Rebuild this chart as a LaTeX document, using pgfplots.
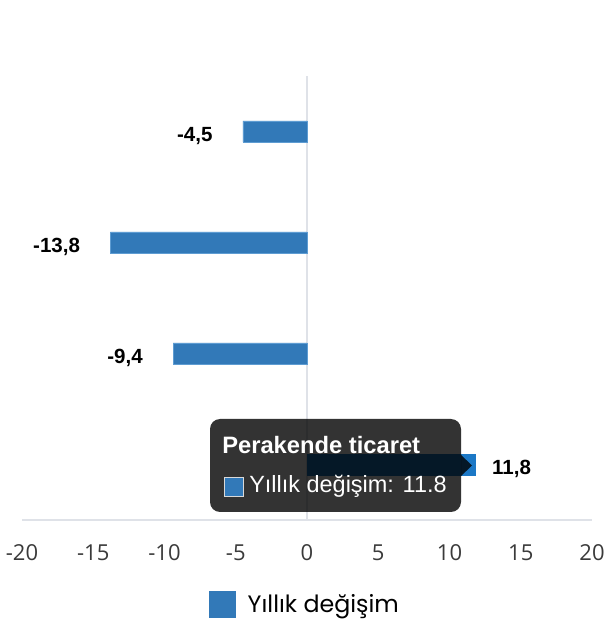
\documentclass[border=0pt]{standalone}
\usepackage{pgfplots}
\pgfplotsset{compat=1.18}
\usepackage{fontspec}
\setmainfont{Liberation Sans}
\newfontfamily\poppins{Poppins}
\newfontfamily\opensans{Open Sans}

\definecolor{barblue}{HTML}{3279B8}
\definecolor{barline}{HTML}{5E9CD2}
\definecolor{hoverblue}{HTML}{1C78C6}
\definecolor{axisgray}{HTML}{DFE2E8}
\definecolor{ticktext}{HTML}{3A3A3A}

% Yillik degisim by sector (top to bottom), categories at y = 4,3,2,1
\pgfplotstableread{
y  val
4  -4.5
3  -13.8
2  -9.4
}\negdata
\pgfplotstableread{
y  val
1  11.8
}\posdata

\begin{document}
\begin{tikzpicture}
% canvas 610 x 640 px, 1 px = 0.75pt
\useasboundingbox (0,0) rectangle (457.5pt,480pt);
\begin{axis}[
    at={(16.5pt,90pt)}, anchor=south west,
    scale only axis,
    width=427.5pt, height=333pt,
    xbar, bar width=0.19, bar shift=0pt,
    xmin=-20, xmax=20,
    ymin=0.5, ymax=4.5,
    xtick={-20,-15,...,20},
    ytick=\empty,
    axis x line=bottom, axis y line=none,
    axis line style={draw=axisgray, line width=1.5pt, -},
    major tick length=0pt,
    xticklabel style={font=\opensans\fontsize{16.5}{18}\selectfont, text=ticktext, yshift=-15pt},
    /pgf/number format/assume math mode=true,
    clip=false,
    nodes near coords={\pgfmathprintnumber[use comma,fixed,fixed zerofill,precision=1]{\pgfplotspointmeta}},
    every node near coord/.append style={font=\bfseries\fontsize{15.4}{17}\selectfont, text=black, inner sep=0pt, yshift=-3.5pt},
    legend style={at={(0.497,-0.19)}, anchor=center, draw=none, fill=none,
        font=\poppins\fontsize{17.8}{20}\selectfont, text=black,
        /tikz/every even column/.append style={column sep=0pt}},
    legend image code/.code={\fill[barblue] (0pt,-9.5pt) rectangle (19.5pt,9.5pt);},
    legend cell align=left,
    /tikz/every odd column/.append style={column sep=7pt},
]
\draw[axisgray, line width=1.5pt] (axis cs:0,0.5) -- (axis cs:0,4.5);
\addplot[fill=barblue, draw=barline, line width=0.5pt,
    every node near coord/.append style={anchor=east, xshift=-22.5pt}]
    table[x=val, y=y] {\negdata};
\addlegendentry{Yıllık değişim}
\addplot[fill=hoverblue, draw=hoverblue, line width=0.5pt, forget plot,
    every node near coord/.append style={anchor=west, xshift=12.5pt}]
    table[x=val, y=y] {\posdata};
\end{axis}
% tooltip overlay (pixel coordinates from top-left)
\begin{scope}[x=0.75pt, y=-0.75pt, shift={(0pt,480pt)}]
  \fill[black, fill opacity=0.8, rounded corners=7.5pt] (210,419) rectangle (461,512);
  \fill[black, fill opacity=0.8] (461,455) -- (472,465.5) -- (461,476) -- cycle;
  \node[anchor=west, text=white, inner sep=0pt, font=\bfseries\fontsize{17.8}{20}\selectfont] at (222,445) {Perakende ticaret};
  \fill[barblue] (224,477) rectangle (243,496);
  \draw[white!85!black, line width=0.5pt] (224,477) rectangle (243,496);
  \node[anchor=west, text=white, inner sep=0pt, font=\fontsize{17.6}{20}\selectfont] at (249,486.5) {Yıllık değişim: 11.8};
\end{scope}
\end{tikzpicture}
\end{document}
